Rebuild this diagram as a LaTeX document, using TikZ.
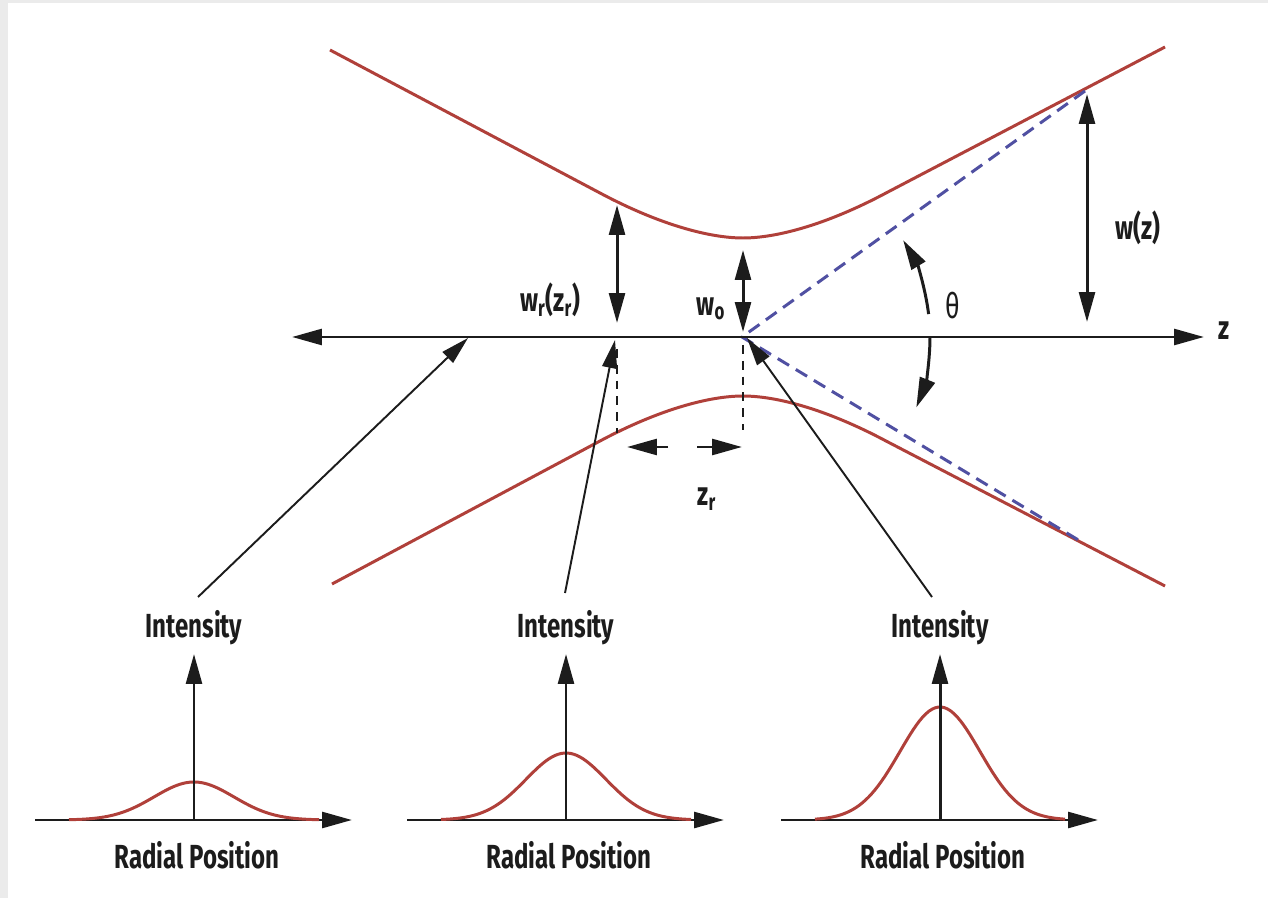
\documentclass[tikz,border=0pt]{standalone}
\usepackage{fontspec}
\setmainfont{Fira Sans}[FakeStretch=0.72]
\usetikzlibrary{arrows.meta}
\definecolor{beamred}{RGB}{176,64,58}
\definecolor{coneblue}{RGB}{80,80,162}
\definecolor{inkgray}{RGB}{28,28,28}
\tikzset{
  axisline/.style={draw=inkgray, line width=1.7pt},
  head/.style={-{Triangle[length=17pt,width=9pt]}},
  dbl/.style={{Triangle[length=17pt,width=9pt]}-{Triangle[length=17pt,width=9pt]}},
  pointer/.style={draw=inkgray, line width=1.1pt, -{Triangle[length=16pt,width=8.5pt]}},
  beam/.style={draw=beamred, line width=1.7pt},
  cone/.style={draw=coneblue, line width=1.7pt, dash pattern=on 7.5pt off 4.5pt},
  guide/.style={draw=inkgray, line width=1.1pt, dash pattern=on 5pt off 4pt},
  lbl/.style={font=\bfseries\fontsize{19pt}{22pt}\selectfont, text=inkgray, inner sep=1pt}
}
\begin{document}
\begin{tikzpicture}[x=0.02cm, y=-0.02cm]
    % page
    \fill[black!8] (0,0) rectangle (1268,898);
    \fill[white] (8,3) rectangle (1268,898);
    \coordinate (O) at (742,337);
    \coordinate (L) at (292,337); \coordinate (R) at (1204,337);
    % beam envelope
    \draw[beam] (330,50) -- (600,193) .. controls (660,225) and (710,238) .. (743,238)
        .. controls (776,238) and (826,225) .. (886,193) -- (1165,47);
    \draw[beam] (332,584) -- (600,441) .. controls (660,409) and (710,396) .. (743,396)
        .. controls (776,396) and (826,409) .. (886,441) -- (1165,586);
    \coordinate (C1) at (1085,91); \coordinate (C2) at (1080,541);
    \draw[cone] (C1) -- (O) -- (C2);
    % z axis
    \draw[axisline, dbl] (L) -- (R);
    \node[lbl] (z) at (1224,331) {z};
    % widths
    \coordinate (WZt) at (1087,94); \coordinate (WZb) at (1087,322);
    \coordinate (WRt) at (617,205); \coordinate (WRb) at (617,323);
    \coordinate (W0t) at (743,250); \coordinate (W0b) at (743,332);
    \draw[axisline, dbl] (WZt) -- (WZb);
    \draw[axisline, dbl] (WRt) -- (WRb);
    \draw[axisline, dbl] (W0t) -- (W0b);
    \node[lbl] (wz) at (1138,228) {w(z)};
    \node[lbl] (wr) at (550,300) {w\textsubscript{r}(z\textsubscript{r})};
    \node[lbl] (w0) at (711,309) {w\textsubscript{o}};
    % Rayleigh range
    \coordinate (G1t) at (617,349); \coordinate (G1b) at (617,433);
    \coordinate (G2t) at (743,345); \coordinate (G2b) at (743,430);
    \draw[guide] (G1t) -- (G1b);
    \draw[guide] (G2t) -- (G2b);
    \coordinate (ZRl) at (627,447); \coordinate (ZRr) at (742,447);
    \draw[axisline, head] (668,447) -- (ZRl);
    \draw[axisline, head] (697,447) -- (ZRr);
    \node[lbl] (zr) at (707,499) {z\textsubscript{r}};
    % divergence angle
    \draw[axisline, head] ([shift={(-7:188)}]O) arc[start angle=-7, end angle=-31, radius=188];
    \draw[axisline, head] ([shift={(0:188)}]O) arc[start angle=0, end angle=22, radius=188];
    \node[lbl, font=\mdseries\fontsize{20pt}{22pt}\selectfont] (th) at (953,306) {θ};
    % intensity profiles
    \foreach \cx/\h/\n/\fx/\fy/\tx/\ty in {194/38/1/198/597/468/338, 566/67/2/565/593/615/340, 940/113/3/932/597/747/338} {
        \draw[axisline, head] (\cx-159,820) -- (\cx+158,820);
        \draw[beam] plot[domain=-125:125, samples=80] ({\cx+\x},{820-\h*exp(-0.5*(\x/40)*(\x/40))});
        \draw[axisline, head] (\cx,820) -- (\cx,654);
        \node[lbl] (int\n) at (\cx,628) {Intensity};
        \node[lbl] (rad\n) at (\cx+3,855) {Radial Position};
        \coordinate (foot\n) at (\fx,\fy); \coordinate (hit\n) at (\tx,\ty);
        \draw[pointer] (foot\n) -- (hit\n);
    }
\end{tikzpicture}
\end{document}
